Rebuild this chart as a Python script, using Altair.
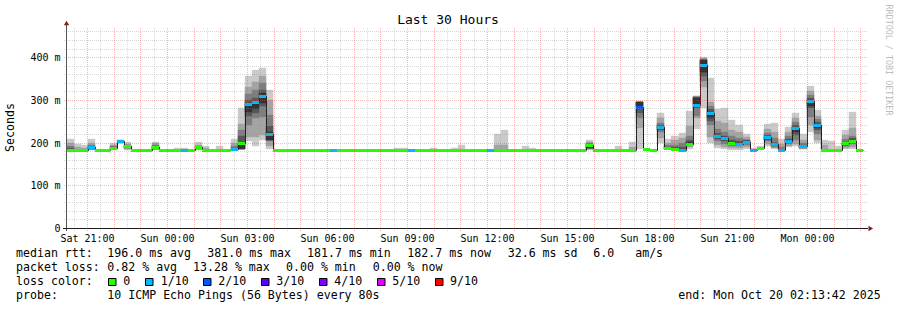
import altair as alt
import pandas as pd

MONO = "DejaVu Sans Mono"
N = None

# ---------------- data ----------------
# time axis: hours counted from Saturday 00:00 (local time)
START_HOUR = 20.25
SPAN_HOURS = 30.0
BIN_HOURS = 16 / 60
Y_MAX_MS = 468.0

DAY_NAMES = ["Sat", "Sun", "Mon"]
X_LABEL_HOURS = [21, 24, 27, 30, 33, 36, 39, 42, 45, 48]
Y_LABEL_MS = [0, 100, 200, 300, 400]
GRID_MAJOR_MS = [100, 200, 300, 400]
GRID_MINOR_MS = [20, 40, 60, 80, 120, 140, 160, 180, 220, 240, 260, 280,
                 320, 340, 360, 380, 420, 440, 460]
GRID_MAJOR_H = [21, 22, 23, 24, 25, 26, 27, 28, 29, 30, 31, 32, 33, 34, 35,
                36, 37, 38, 39, 40, 41, 42, 43, 44, 45, 46, 47, 48, 49, 50]
GRID_MINOR_H = [20.5, 21.5, 22.5, 23.5, 24.5, 25.5, 26.5, 27.5, 28.5, 29.5,
                30.5, 31.5, 32.5, 33.5, 34.5, 35.5, 36.5, 37.5, 38.5, 39.5,
                40.5, 41.5, 42.5, 43.5, 44.5, 45.5, 46.5, 47.5, 48.5, 49.5]

# median rtt per 16-minute bin (ms)
median_ms = [
    183, 183, 183, 190, 183, 183, 187.5, 203, 191, 183,
    183, 183, 190, 183, 183, 183, 183, 183, 188.5, 183,
    183, 183, 183, 185, 199, 290, 296, 310, 221, 183,
    183, 183, 183, 183, 183, 183, 183, 183, 182.3, 182.3,
    182.3, 182.3, 182.3, 183, 183, 183, 183, 183, 183, 183,
    183, 183, 183, 183, 183, 183, 183, 183, 183, 183,
    183, 183, 183, 183, 183, 183, 183, 183, 183, 183,
    183, 183, 183, 195, 183, 183, 183, 183, 183, 183,
    283, 184.5, 182.5, 236, 187, 185.5, 183, 197.5, 287, 381,
    270, 215, 210, 200, 197, 202, 183, 188, 213, 196,
    183, 204, 234, 191, 297, 240, 183, 182, 182, 198,
    204, 183,
]
# lost pings (out of 10) per bin
loss_tenths = [
    0, 0, 0, 1, 0, 0, 0, 1, 0, 0,
    0, 0, 0, 0, 0, 0, 1, 0, 0, 0,
    0, 0, 0, 1, 0, 1, 1, 1, 1, 0,
    0, 0, 0, 0, 0, 0, 0, 1, 0, 0,
    0, 0, 0, 0, 0, 0, 0, 0, 1, 0,
    0, 0, 0, 0, 0, 0, 0, 0, 0, 1,
    0, 0, 0, 0, 0, 0, 0, 0, 0, 0,
    0, 0, 0, 0, 0, 0, 0, 0, 0, 0,
    2, 0, 0, 1, 0, 0, 1, 0, 1, 1,
    1, 1, 1, 0, 1, 1, 1, 0, 1, 1,
    1, 1, 1, 1, 1, 1, 0, 0, 0, 0,
    0, 0,
]

# bins with visible smoke, and the 5 nested smoke bands (ms)
smoke_bins = [
    0, 1, 2, 3, 6, 7, 8, 12, 15, 16,
    18, 19, 21, 23, 24, 25, 26, 27, 28, 46,
    47, 51, 54, 55, 60, 61, 64, 65, 73, 77,
    79, 80, 81, 83, 84, 85, 86, 87, 88, 89,
    90, 91, 92, 93, 94, 95, 96, 97, 98, 99,
    100, 101, 102, 103, 104, 105, 106, 107, 108, 109,
    110]
l1_lo = [
    182, 182, 182, 182, 183, 198, 183, 184, 182, 182,
    183, 182, 182, 182, 185, 203, 191, 205, 184, 182,
    182, 182, 182, 182, 182, 182, 182, 182, 183, 182,
    182, 184, 183, 199, 184, 183, 182, 184, 232, 281,
    199, 187, 184, 183, 183, 185, 182, 185, 191, 185,
    182, 189, 191, 184, 224, 199, 182, 181, 181, 185,
    185]
l1_hi = [
    209, 197, 194, 209, 199, 206, 201.5, 202, 188, 188,
    200.5, 191, 191, 209, 281, 356, 370, 375, 323, 188,
    188, 188, 188, 195, 219, 230, 191, 188, 205, 191,
    201.5, 297, 187.5, 268, 209, 216, 223, 273, 310, 400,
    352, 278, 281, 253, 242, 220, 187, 191, 244, 246,
    208, 237, 270, 221, 333, 277, 207, 203, 191, 230,
    272]
l2_lo = [
    183, 183, 183, 184, 184, 200, 185, 185, N, N,
    184, 182, N, 183, 185, 214, 214, 218, 191, N,
    N, N, N, N, 183, 183, N, N, 185, N,
    183, 234, N, 210, 185, 184, 183, 190, 258, 331,
    214, 195, 190, 188, 188, 190, N, N, 196, 188,
    182, 193, 196, 186, 240, 205, 182, N, N, 188,
    190]
l2_hi = [
    199, 190, 188, 200, 194, 205, 197, 198, N, N,
    195, 187, N, 199, 243, 331, 342, 356, 300, N,
    N, N, N, N, 195, 195, N, N, 202, N,
    190, 294, N, 257, 200, 205, 210, 238, 308, 398,
    294, 250, 245, 230, 225, 212, N, N, 232, 225,
    197, 225, 257, 205, 320, 263, 195, N, N, 218,
    233]
l3_lo = [
    183, N, N, 185, 185, N, 187, 186, N, N,
    185, N, N, 184, 186, 242, 257, 260, 203, N,
    N, N, N, N, N, N, N, N, 186, N,
    N, 258, N, 225, 186, 185, 183, 193, 262, 345,
    240, 203, 197, 193, 192, 195, N, N, 203, 190,
    182, 197, 205, 188, 260, 220, N, N, N, 192,
    196]
l3_hi = [
    192, N, N, 195, 191, N, 194, 195, N, N,
    192, N, N, 193, 230, 314, 323, 340, 265, N,
    N, N, N, N, N, N, N, N, 199, N,
    N, 294, N, 245, 194, 195, 200, 215, 307, 396,
    285, 232, 225, 215, 210, 207, N, N, 222, 210,
    190, 215, 248, 198, 312, 255, N, N, N, 208,
    215]
l4_lo = [
    183, N, N, 186, 185, N, 188, 186, N, N,
    185, N, N, 184, 186, 262, 270, 285, 205, N,
    N, N, N, N, N, N, N, N, 187, N,
    N, 270, N, 230, 186, 185, 183, 195, 280, 355,
    250, 208, 203, 196, 195, 198, N, N, 207, 192,
    N, 200, 218, 189, 281, 230, N, N, N, 194,
    199]
l4_hi = [
    188, N, N, 193, 189, N, 193, 192, N, N,
    190, N, N, 188, 216, 300, 305, 323, 238, N,
    N, N, N, N, N, N, N, N, 197, N,
    N, 294, N, 240, 190, 190, 190, 205, 306, 394,
    278, 222, 215, 205, 203, 205, N, N, 218, 200,
    N, 208, 240, 195, 305, 248, N, N, N, 202,
    210]
l5_lo = [
    N, N, N, 186, N, N, N, 186, N, N,
    N, N, N, N, 186, 272, 278, 293, 207, N,
    N, N, N, N, N, N, N, N, 188, N,
    N, 285, N, 232, N, N, N, 196, 290, 365,
    258, 210, 205, 197, 196, 200, N, N, 209, 194,
    N, 201, 225, 190, 285, 235, N, N, N, 195,
    201]
l5_hi = [
    N, N, N, 189, N, N, N, 189, N, N,
    N, N, N, N, 197, 293, 298, 315, 224, N,
    N, N, N, N, N, N, N, N, 194, N,
    N, 296, N, 238, N, N, N, 201, 304, 392,
    272, 218, 212, 202, 199, 204, N, N, 214, 198,
    N, 206, 236, 193, 300, 242, N, N, N, 199,
    206]

LOSS_LEVELS = [0, 1, 2, 3, 4, 5, 9]
LOSS_LABELS = ["0", "1/10", "2/10", "3/10", "4/10", "5/10", "9/10"]
LOSS_COLORS = ["#26ff00", "#00b8ff", "#0059ff", "#5e00ff", "#7e00ff", "#dd00ff", "#ff0000"]
SMOKE_COLORS = ["#cacaca", "#a4a4a4", "#7e7e7e", "#585858", "#323232"]

legend_rows = [
    [("median rtt:", 16), ("196.0 ms avg", 107.3), ("381.0 ms max", 207.3),
     ("181.7 ms min", 307.0), ("182.7 ms now", 407.3), ("32.6 ms sd", 507.7),
     ("6.0\u00a0\u00a0\u00a0am/s", 593.3)],
    [("packet loss:", 16), ("0.82 % avg", 107.3), ("13.28 % max", 193.0),
     ("0.00 % min", 286.0), ("0.00 % now", 372.7)],
    [("loss color:", 16)],
    [("probe:", 16), ("10 ICMP Echo Pings (56 Bytes) every 80s", 107.3),
     ("end: Mon Oct 20 02:13:42 2025", 678.3)],
]
ROW_Y = [254.3, 268.2, 282.0, 296.0]
SWATCH_X = [108.5, 145.5, 203.5, 261.5, 319.5, 377.5, 435.5]
SWATCH_LABEL_X = [123.3, 160.7, 218.3, 276.3, 334.3, 392.3, 450.0]

# ---------------- layout ----------------
PAD_L, PAD_T, W, H = 67, 28, 800, 200
TOTAL_W, TOTAL_H = 897, 310

# ---------------- frames ----------------
bins = list(range(len(median_ms)))
loss_color_of = dict(zip(LOSS_LEVELS, LOSS_COLORS))
bin_df = pd.DataFrame({
    "t0": [START_HOUR + b * BIN_HOURS for b in bins],
    "t1": [START_HOUR + (b + 1) * BIN_HOURS for b in bins],
    "median": median_ms,
    "lcol": [loss_color_of[v] for v in loss_tenths],
})
line_df = pd.DataFrame({
    "t": list(bin_df["t0"]) + [bin_df["t1"].iloc[-1]],
    "median": median_ms + [median_ms[-1]],
})

rows = []
for li, (lo, hi) in enumerate([(l1_lo, l1_hi), (l2_lo, l2_hi), (l3_lo, l3_hi),
                                (l4_lo, l4_hi), (l5_lo, l5_hi)]):
    for k, b in enumerate(smoke_bins):
        if lo[k] is None:
            continue
        rows.append({"t0": START_HOUR + b * BIN_HOURS,
                     "t1": START_HOUR + (b + 1) * BIN_HOURS,
                     "lo": lo[k], "hi": hi[k], "fill": SMOKE_COLORS[li]})
smoke_df = pd.DataFrame(rows)

x_scale = alt.Scale(domain=[START_HOUR, START_HOUR + SPAN_HOURS], nice=False, zero=False, round=True)
y_scale = alt.Scale(domain=[0, Y_MAX_MS], nice=False, zero=False, round=True)

day_expr = "(datum.value < 24 ? '%s' : datum.value < 48 ? '%s' : '%s')" % tuple(DAY_NAMES)
x_label_expr = (day_expr + " + ' ' + ((datum.value % 24) < 10 ? '0' : '') + (datum.value % 24) + ':00'")
y_label_expr = "datum.value == 0 ? '0\u00a0\u00a0' : datum.value + ' m'"

x_axis = alt.Axis(values=X_LABEL_HOURS, labelExpr=x_label_expr, title=None, domain=False,
                  ticks=False, tickSize=0, grid=False, labelFont=MONO, labelFontSize=10,
                  labelColor="#000000", labelPadding=5, labelFlush=False, labelOverlap=False)
y_axis = alt.Axis(values=Y_LABEL_MS, labelExpr=y_label_expr, title=None, domain=False,
                  ticks=False, tickSize=0, grid=False, labelFont=MONO, labelFontSize=10,
                  labelColor="#000000", labelPadding=7, labelOverlap=False)

smoke = alt.Chart(smoke_df).mark_rect(strokeWidth=0.4).encode(
    x=alt.X("t0:Q", scale=x_scale, axis=x_axis),
    x2="t1:Q",
    y=alt.Y("lo:Q", scale=y_scale, axis=y_axis),
    y2="hi:Q",
    color=alt.Color("fill:N", scale=None),
    stroke=alt.Stroke("fill:N", scale=None),
)

median_line = alt.Chart(line_df).mark_line(interpolate="step-after", color="#202020",
                                           strokeWidth=1, xOffset=0.5, yOffset=0.5).encode(
    x=alt.X("t:Q", scale=x_scale, axis=x_axis),
    y=alt.Y("median:Q", scale=y_scale, axis=y_axis),
)

loss_bars = alt.Chart(bin_df).mark_rule(strokeWidth=3, yOffset=0.5).encode(
    x=alt.X("t0:Q", scale=x_scale, axis=x_axis),
    x2="t1:Q",
    y=alt.Y("median:Q", scale=y_scale, axis=y_axis),
    color=alt.Color("lcol:N", scale=None),
)


def hgrid(vals, color, opacity):
    return alt.Chart(pd.DataFrame({"v": vals})).mark_rule(
        color=color, opacity=opacity, strokeWidth=1, strokeDash=[1, 1], yOffset=0.5
    ).encode(y=alt.Y("v:Q", scale=y_scale, axis=y_axis), x=alt.value(-3), x2=alt.value(W))


def vgrid(vals, color, opacity):
    return alt.Chart(pd.DataFrame({"h": vals})).mark_rule(
        color=color, opacity=opacity, strokeWidth=1, strokeDash=[1, 1], xOffset=0.5
    ).encode(x=alt.X("h:Q", scale=x_scale, axis=x_axis), y=alt.value(0), y2=alt.value(H + 3))


grid = [
    hgrid(GRID_MINOR_MS, "#8f8f8f", 0.35),
    vgrid(GRID_MINOR_H, "#8f8f8f", 0.35),
    hgrid(GRID_MAJOR_MS, "#de4f4f", 0.4),
    vgrid(GRID_MAJOR_H, "#de4f4f", 0.4),
]

one = pd.DataFrame({"k": [0]})
axis_lines = [
    alt.Chart(one).mark_rule(color="#555555", strokeWidth=1).encode(
        x=alt.value(-0.5), y=alt.value(25 - PAD_T), y2=alt.value(231 - PAD_T)),
    alt.Chart(one).mark_rule(color="#1f1f1f", strokeWidth=1).encode(
        y=alt.value(H + 0.5), x=alt.value(63 - PAD_L), x2=alt.value(868 - PAD_L)),
    alt.Chart(one).mark_point(shape="triangle-up", filled=True, size=28, color="#801f1f", opacity=1).encode(
        x=alt.value(-0.5), y=alt.value(23 - PAD_T)),
    alt.Chart(one).mark_point(shape="triangle-right", filled=True, size=28, color="#801f1f", opacity=1).encode(
        x=alt.value(870.8 - PAD_L), y=alt.value(H + 0.5)),
]


def label(text, x, y, size=11.6, align="left", angle=0, color="#000000"):
    return alt.Chart(pd.DataFrame({"s": [text]})).mark_text(
        align=align, baseline="middle", font=MONO, fontSize=size, angle=angle, color=color
    ).encode(x=alt.value(x - PAD_L), y=alt.value(y - PAD_T), text="s:N")


texts = [
    label("Last 30 Hours", 448, 19.5, size=13, align="center"),
    label("Seconds", 10.8, 127.5, size=11.6, align="center", angle=270),
    label("RRDTOOL / TOBI OETIKER", 888.5, 60, size=8.4, align="center", angle=90, color="#bdbdbd"),
]
for row, ry in zip(legend_rows, ROW_Y):
    for s, x in row:
        texts.append(label(s, x, ry))

swatches = []
for lvl, lab, col, sx, lx in zip(LOSS_LEVELS, LOSS_LABELS, LOSS_COLORS, SWATCH_X, SWATCH_LABEL_X):
    swatches.append(
        alt.Chart(pd.DataFrame({"level": [lvl]})).mark_rect(color=col, stroke="#000000", strokeWidth=1).encode(
            x=alt.value(sx - PAD_L), x2=alt.value(sx + 7.5 - PAD_L),
            y=alt.value(278.5 - PAD_T), y2=alt.value(285.5 - PAD_T)))
    texts.append(label(lab, lx, ROW_Y[2]))

chart = alt.layer(smoke, median_line, loss_bars, *grid, *axis_lines, *swatches, *texts).properties(
    width=W, height=H,
    padding={"left": PAD_L, "top": PAD_T, "right": TOTAL_W - PAD_L - W, "bottom": TOTAL_H - PAD_T - H},
    autosize=alt.AutoSizeParams(type="none"),
    background="#ffffff",
).configure_view(stroke=None)

chart.save("out.html", embed_options={"renderer": "svg", "actions": False})
